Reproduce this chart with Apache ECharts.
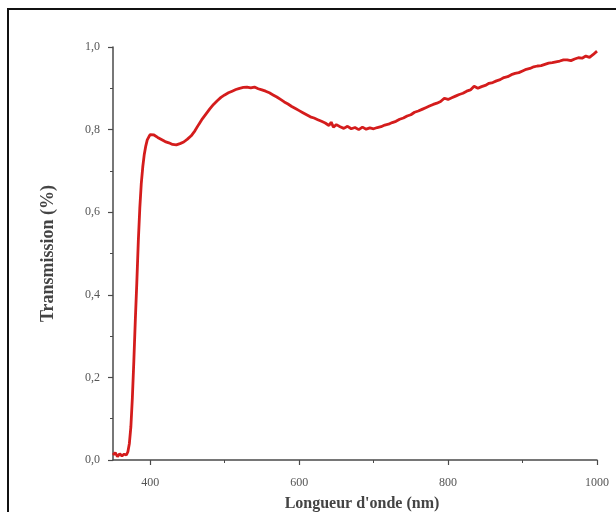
<!DOCTYPE html>
<html>
<head>
<meta charset="utf-8">
<script src="https://cdn.jsdelivr.net/npm/echarts@6/dist/echarts.min.js"></script>
<style>
  html, body { margin: 0; padding: 0; background: #ffffff; }
  #chart { width: 616px; height: 512px; }
</style>
</head>
<body>
<div id="chart"></div>
<script>
// Transmission spectrum of the thin film, wavelength (nm) vs transmission
const wavelength = [
  350, 353, 356, 359, 362, 365, 368, 370, 372, 374, 376, 378, 380, 382, 384, 386, 388, 390,
  392, 394, 396, 398, 400, 402, 405, 410, 415, 420, 425, 430, 435, 440, 445, 450, 455, 460,
  465, 470, 475, 480, 485, 490, 495, 500, 505, 510, 515, 520, 525, 530, 535, 540, 545, 550,
  555, 560, 565, 570, 575, 580, 585, 590, 595, 600, 605, 610, 615, 620, 625, 630, 635, 640,
  643, 646, 650, 655, 660, 665, 670, 675, 680, 685, 690, 695, 700, 705, 710, 715, 720, 725,
  730, 735, 740, 745, 750, 755, 760, 765, 770, 775, 780, 785, 790, 795, 800, 805, 810, 815,
  820, 825, 830, 835, 840, 845, 850, 855, 860, 865, 870, 875, 880, 885, 890, 895, 900, 905,
  910, 915, 920, 925, 930, 935, 940, 945, 950, 955, 960, 965, 970, 975, 980, 985, 990, 995, 1000
];
const transmission = [
  0.012, 0.018, 0.008, 0.015, 0.010, 0.014, 0.012, 0.020, 0.040, 0.080, 0.150, 0.240, 0.340, 0.430, 0.530, 0.610, 0.670, 0.710,
  0.740, 0.760, 0.775, 0.782, 0.788, 0.792, 0.787, 0.781, 0.776, 0.771, 0.768, 0.764, 0.763, 0.766, 0.770, 0.777, 0.785, 0.797,
  0.812, 0.826, 0.838, 0.850, 0.861, 0.870, 0.878, 0.884, 0.889, 0.893, 0.897, 0.900, 0.902, 0.903, 0.901, 0.903, 0.899, 0.896,
  0.893, 0.889, 0.884, 0.879, 0.873, 0.867, 0.862, 0.856, 0.851, 0.846, 0.841, 0.836, 0.831, 0.828, 0.824, 0.820, 0.816, 0.810,
  0.818, 0.806, 0.812, 0.807, 0.803, 0.808, 0.802, 0.805, 0.800, 0.806, 0.801, 0.804, 0.802, 0.805, 0.807, 0.811, 0.813, 0.817,
  0.820, 0.825, 0.828, 0.833, 0.836, 0.842, 0.845, 0.849, 0.853, 0.857, 0.861, 0.864, 0.868, 0.876, 0.873, 0.877, 0.881, 0.885,
  0.888, 0.893, 0.896, 0.905, 0.900, 0.904, 0.907, 0.912, 0.914, 0.918, 0.921, 0.926, 0.928, 0.933, 0.936, 0.938, 0.942, 0.946,
  0.948, 0.952, 0.954, 0.955, 0.958, 0.961, 0.962, 0.964, 0.966, 0.969, 0.969, 0.967, 0.971, 0.974, 0.973, 0.978, 0.975, 0.982, 0.990
];
const xMajorTicks = [400, 600, 800, 1000];
const xMinorTicks = [500, 700, 900];
const xTickLabels = ['400', '600', '800', '1000'];
const yTickLabels = ['0,0', '0,2', '0,4', '0,6', '0,8', '1,0'];

const points = wavelength.map((w, i) => [w, transmission[i]]);
const serif = '"Liberation Serif", "DejaVu Serif", serif';
const axisColor = '#4a4a4a';

const chart = echarts.init(document.getElementById('chart'), null, { renderer: 'canvas' });
chart.setOption({
  animation: false,
  backgroundColor: '#ffffff',
  grid: { left: 113, right: 19, top: 47, bottom: 52, containLabel: false, outerBoundsMode: 'none' },
  graphic: [{
    type: 'rect',
    shape: { x: 8, y: 9, width: 700, height: 600 },
    style: { fill: 'none', stroke: '#111111', lineWidth: 2 },
    silent: true,
    z: 100
  }],
  xAxis: [{
    type: 'value',
    min: 350,
    max: 1000,
    name: "Longueur d'onde (nm)",
    nameLocation: 'middle',
    nameGap: 36,
    nameTextStyle: { fontFamily: serif, fontSize: 16, fontWeight: 'bold', color: '#444', padding: [0, 0, 0, 14] },
    axisLine: { show: true, onZero: false, lineStyle: { color: axisColor, width: 1.5 } },
    axisTick: { show: true, length: 5, customValues: xMajorTicks, lineStyle: { color: axisColor, width: 1.2 } },
    axisLabel: {
      customValues: xMajorTicks, fontFamily: serif, fontSize: 12, color: '#555', margin: 17,
      formatter: v => xTickLabels[xMajorTicks.indexOf(v)]
    },
    splitLine: { show: false }
  }, {
    type: 'value',
    min: 350,
    max: 1000,
    position: 'bottom',
    axisLine: { show: false },
    axisTick: { show: true, length: 3, customValues: xMinorTicks, lineStyle: { color: axisColor, width: 1 } },
    axisLabel: { show: false },
    splitLine: { show: false }
  }],
  yAxis: {
    type: 'value',
    min: 0,
    max: 1,
    interval: 0.2,
    name: 'Transmission (%)',
    nameLocation: 'middle',
    nameGap: 56,
    nameTextStyle: { fontFamily: serif, fontSize: 18, fontWeight: 'bold', color: '#444' },
    axisLine: { show: true, lineStyle: { color: axisColor, width: 1.5 } },
    axisTick: { show: true, length: 5, lineStyle: { color: axisColor, width: 1.2 } },
    minorTick: { show: true, splitNumber: 2, length: 3, lineStyle: { color: axisColor, width: 1 } },
    axisLabel: {
      fontFamily: serif, fontSize: 12, color: '#555', margin: 13,
      formatter: v => yTickLabels[Math.round(v / 0.2)]
    },
    splitLine: { show: false }
  },
  series: [{
    type: 'line',
    data: points,
    showSymbol: false,
    smooth: false,
    lineStyle: { color: '#d41c1c', width: 2.8 },
    z: 5
  }]
});
</script>
</body>
</html>
